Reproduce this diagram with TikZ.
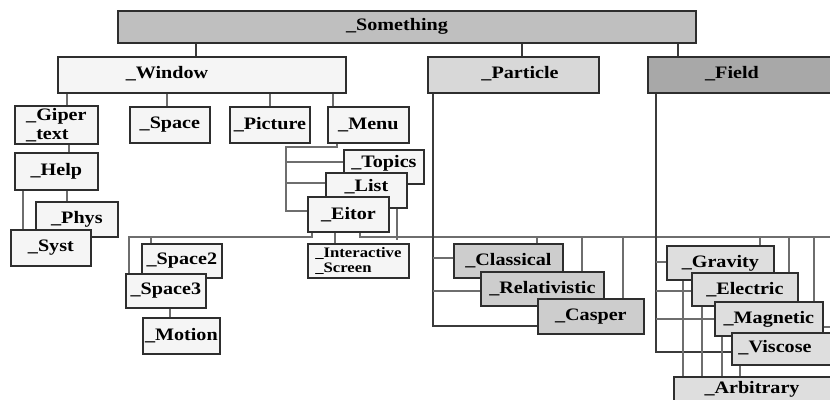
\documentclass[tikz,border=0pt]{standalone}
\usepackage{fontspec}
\setmainfont{Liberation Serif}[FakeStretch=1.15]
\usetikzlibrary{backgrounds}
\definecolor{boxc}{HTML}{2E2E2E}
\definecolor{linec}{HTML}{6E6E6E}
\definecolor{fsth}{HTML}{BFBFBF}
\definecolor{fwin}{HTML}{F5F5F5}
\definecolor{fpar}{HTML}{D8D8D8}
\definecolor{ffld}{HTML}{A8A8A8}
\definecolor{fpch}{HTML}{CDCDCD}
\definecolor{ffch}{HTML}{DEDEDE}
\tikzset{
  box/.style={draw=boxc, line width=1.8pt, inner sep=0pt, anchor=north west,
    align=center, fill=fwin, font=\bfseries\fontsize{17.5}{17}\selectfont},
  lbl/.style={inner sep=0pt, font=\bfseries\fontsize{17.5}{17}\selectfont},
  conn/.style={draw=linec, line width=1.6pt},
  trunk/.style={draw=boxc!80!linec, line width=1.8pt}
}
\begin{document}
\begin{tikzpicture}[x=1pt,y=-1pt]
\useasboundingbox (0,0) rectangle (830,399);
\clip (0,0) rectangle (830,399);
% top level
\node[box, fill=fsth, minimum width=578pt, minimum height=32pt] (sth) at (117,10) {};
\node[lbl] (sthT) at (397,26) {\_Something};
\node[box, fill=fwin, minimum width=288pt, minimum height=36pt] (win) at (57,56) {};
\node[lbl] (winT) at (167,74) {\_Window};
\node[box, fill=fpar, minimum width=171pt, minimum height=36pt] (par) at (427,56) {};
\node[lbl] (parT) at (520,74) {\_Particle};
\node[box, fill=ffld, minimum width=200pt, minimum height=36pt] (fld) at (647,56) {};
\node[lbl] (fldT) at (732,74) {\_Field};
% window children
\node[box, minimum width=83pt, minimum height=38pt, align=left] (gip) at (14,105) {\_Giper\\[2pt]\_text};
\node[box, minimum width=80pt, minimum height=36pt] (spc) at (129,106) {\_Space};
\node[box, minimum width=80pt, minimum height=36pt] (pic) at (229,106) {\_Picture};
\node[box, minimum width=81pt, minimum height=36pt] (men) at (327,106) {\_Menu};
\node[box, minimum width=83pt, minimum height=37pt] (hlp) at (14,152) {\_Help};
\node[box, minimum width=82pt, minimum height=35pt] (phy) at (35,201) {\_Phys};
\node[box, minimum width=80pt, minimum height=36pt] (sys) at (10,229) {\_Syst};
\node[box, minimum width=80pt, minimum height=34pt, text depth=10pt] (top) at (343,149) {\_Topics};
\node[box, minimum width=81pt, minimum height=35pt, text depth=10pt] (lst) at (325,172) {\_List};
\node[box, minimum width=81pt, minimum height=35pt] (eit) at (307,196) {\_Eitor};
\node[box, minimum width=101pt, minimum height=34pt, align=left, font=\bfseries\fontsize{14.5}{15}\selectfont] (isc) at (307,243) {\_Interactive\\\_Screen};
\node[box, minimum width=80pt, minimum height=34pt] (sp2) at (141,243) {\_Space2};
\node[box, minimum width=80pt, minimum height=34pt] (sp3) at (125,273) {\_Space3};
\node[box, minimum width=77pt, minimum height=36pt] (mot) at (142,317) {\_Motion};
% particle children
\node[box, fill=fpch, minimum width=109pt, minimum height=34pt] (cla) at (453,243) {\_Classical};
\node[box, fill=fpch, minimum width=123pt, minimum height=34pt] (rel) at (480,271) {\_Relativistic};
\node[box, fill=fpch, minimum width=106pt, minimum height=35pt] (cas) at (537,298) {\_Casper};
% field children
\node[box, fill=ffch, minimum width=107pt, minimum height=34pt] (gra) at (666,245) {\_Gravity};
\node[box, fill=ffch, minimum width=106pt, minimum height=33pt] (ele) at (691,272) {\_Electric};
\node[box, fill=ffch, minimum width=108pt, minimum height=34pt] (mag) at (714,301) {\_Magnetic};
\node[box, fill=ffch, minimum width=120pt, minimum height=32pt] (vis) at (731,332) {};
\node[lbl] (visT) at (775,348) {\_Viscose};
\node[box, fill=ffch, minimum width=170pt, minimum height=40pt] (arb) at (673,376) {};
\node[lbl] (arbT) at (752,389) {\_Arbitrary};
% free-end coordinates of the bus line
\coordinate (busL) at (129,237);
\coordinate (busR) at (835,237);
\begin{scope}[on background layer]
  % from _Something
  \draw[trunk] (196,0 |- sth.south) -- (196,0 |- win.north);
  \draw[trunk] (522,0 |- sth.south) -- (522,0 |- par.north);
  \draw[trunk] (678,0 |- sth.south) -- (678,0 |- fld.north);
  % from _Window
  \draw[conn] (67,0 |- win.south) -- (67,0 |- gip.north);
  \draw[conn] (167,0 |- win.south) -- (167,0 |- spc.north);
  \draw[conn] (270,0 |- win.south) -- (270,0 |- pic.north);
  \draw[conn] (333,0 |- win.south) -- (333,0 |- men.north);
  % giper / help
  \draw[conn] (69,0 |- gip.south) -- (69,0 |- hlp.north);
  \draw[conn] (67,0 |- hlp.south) -- (67,0 |- phy.north);
  \draw[conn] (23,0 |- hlp.south) -- (23,0 |- sys.north);
  % menu tree
  \draw[conn] (337,0 |- men.south) -- (337,147) -- (286,147) -- (286,211) -- (eit.west |- 0,211);
  \draw[conn] (286,162) -- (top.west |- 0,162);
  \draw[conn] (286,183) -- (lst.west |- 0,183);
  \draw[conn] (335,0 |- eit.south) -- (335,0 |- isc.north);
  % bus line
  \draw[conn] (312,0 |- eit.south) -- (312,237) -- (busL) -- (129,0 |- sp3.north);
  \draw[conn] (151,237) -- (151,0 |- sp2.north);
  \draw[conn] (360,0 |- eit.south) -- (360,237) -- (busR);
  \draw[conn] (397,0 |- lst.south) -- (397,240);
  \draw[conn] (170,0 |- sp3.south) -- (170,0 |- mot.north);
  % particle tree
  \draw[trunk] (433,0 |- par.south) -- (433,326) -- (cas.west |- 0,326);
  \draw[conn] (433,258) -- (cla.west |- 0,258);
  \draw[conn] (433,291) -- (rel.west |- 0,291);
  \draw[conn] (537,237) -- (537,0 |- cla.north);
  \draw[conn] (582,237) -- (582,0 |- rel.north);
  \draw[conn] (623,237) -- (623,0 |- cas.north);
  % field tree
  \draw[trunk] (656,0 |- fld.south) -- (656,352) -- (vis.west |- 0,352);
  \draw[conn] (656,262) -- (gra.west |- 0,262);
  \draw[conn] (656,291) -- (ele.west |- 0,291);
  \draw[conn] (656,319) -- (mag.west |- 0,319);
  \draw[conn] (760,237) -- (760,0 |- gra.north);
  \draw[conn] (789,237) -- (789,0 |- ele.north);
  \draw[conn] (814,237) -- (814,0 |- mag.north);
  \draw[conn] (mag.east |- 0,327) -- (835,327);
  \draw[conn] (683,0 |- gra.south) -- (683,0 |- arb.north);
  \draw[conn] (702,0 |- ele.south) -- (702,0 |- arb.north);
  \draw[conn] (722,0 |- mag.south) -- (722,0 |- arb.north);
  \draw[conn] (740,0 |- vis.south) -- (740,0 |- arb.north);
\end{scope}
\end{tikzpicture}
\end{document}
